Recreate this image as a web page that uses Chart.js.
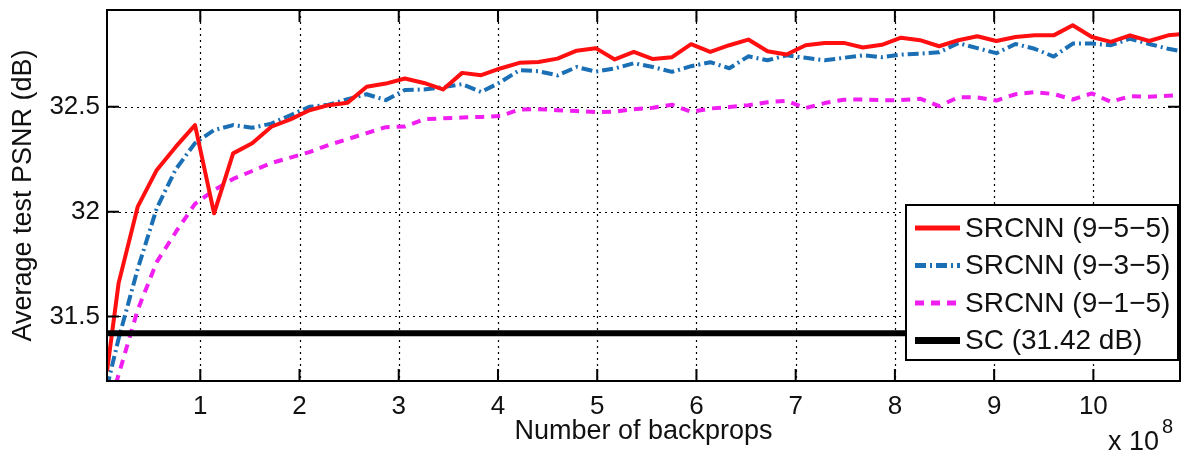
<!DOCTYPE html>
<html>
<head>
<meta charset="utf-8">
<script src="https://cdn.jsdelivr.net/npm/chart.js@4.4.1/dist/chart.umd.min.js"></script>
<style>
  html, body { margin: 0; padding: 0; background: #fff; overflow: hidden; }
  canvas { display: block; }
</style>
</head>
<body>
<canvas id="psnr" width="1185" height="454"></canvas>
<script>
// Training progress, x in units of 10^8 backprops
const backprops = [0.06, 0.177, 0.370, 0.562, 0.754, 0.947, 1.139, 1.331, 1.523, 1.716,
  1.908, 2.100, 2.293, 2.485, 2.677, 2.870, 3.062, 3.254, 3.446, 3.639,
  3.831, 4.023, 4.216, 4.408, 4.600, 4.793, 4.985, 5.177, 5.369, 5.562,
  5.754, 5.946, 6.139, 6.331, 6.523, 6.716, 6.908, 7.100, 7.292, 7.485,
  7.677, 7.869, 8.062, 8.254, 8.446, 8.639, 8.831, 9.023, 9.215, 9.408,
  9.600, 9.792, 9.985, 10.177, 10.369, 10.562, 10.754, 10.946];

// Average test PSNR (dB) per network
const psnr955 = [31.238, 31.659, 32.024, 32.199, 32.310, 32.413, 31.992, 32.278, 32.326, 32.405,
  32.440, 32.484, 32.508, 32.520, 32.596, 32.611, 32.635, 32.614, 32.583, 32.662,
  32.651, 32.683, 32.710, 32.714, 32.730, 32.768, 32.780, 32.726, 32.762, 32.728,
  32.737, 32.799, 32.762, 32.794, 32.821, 32.765, 32.750, 32.794, 32.805, 32.805,
  32.783, 32.796, 32.830, 32.818, 32.789, 32.818, 32.837, 32.814, 32.833, 32.841,
  32.841, 32.889, 32.833, 32.810, 32.841, 32.814, 32.841, 32.850];

const psnr935 = [31.163, 31.394, 31.727, 32.017, 32.203, 32.327, 32.389, 32.413, 32.400, 32.420,
  32.460, 32.500, 32.510, 32.537, 32.560, 32.532, 32.580, 32.583, 32.594, 32.608,
  32.571, 32.617, 32.675, 32.670, 32.650, 32.690, 32.668, 32.683, 32.708, 32.690,
  32.667, 32.694, 32.713, 32.684, 32.741, 32.722, 32.746, 32.734, 32.722, 32.734,
  32.746, 32.737, 32.749, 32.754, 32.760, 32.804, 32.780, 32.756, 32.800, 32.777,
  32.740, 32.802, 32.802, 32.794, 32.825, 32.800, 32.777, 32.760];

const psnr915 = [31.032, 31.222, 31.532, 31.760, 31.903, 32.037, 32.103, 32.156, 32.194, 32.232,
  32.258, 32.284, 32.318, 32.346, 32.375, 32.403, 32.406, 32.441, 32.445, 32.449,
  32.452, 32.456, 32.487, 32.489, 32.484, 32.480, 32.475, 32.477, 32.489, 32.496,
  32.510, 32.476, 32.492, 32.499, 32.508, 32.522, 32.529, 32.494, 32.518, 32.534,
  32.535, 32.532, 32.532, 32.539, 32.503, 32.546, 32.545, 32.530, 32.560, 32.570,
  32.561, 32.535, 32.564, 32.524, 32.551, 32.548, 32.553, 32.555];

// Sparse-coding baseline
const scBaseline = 31.42;

const seriesLabels = ['SRCNN (9\u22125\u22125)', 'SRCNN (9\u22123\u22125)', 'SRCNN (9\u22121\u22125)', 'SC (31.42 dB)'];
const xTickValues = [1, 2, 3, 4, 5, 6, 7, 8, 9, 10];
const yTickValues = [31.5, 32, 32.5];
const xRange = [0.06, 10.873];
const yRange = [31.192, 32.962];

const FONT = "'Liberation Sans', Arial, Helvetica, sans-serif";
const INK = '#111';

const toPoints = ys => backprops.map((x, i) => ({ x, y: ys[i] }));

// Grid, boxed axes with inward ticks, legend and the exponent label
const matlabFrame = {
  id: 'matlabFrame',
  beforeDatasetsDraw(chart) {
    const { ctx, chartArea: a, scales: { x, y } } = chart;
    ctx.save();
    ctx.strokeStyle = '#000';
    ctx.lineWidth = 1.2;
    ctx.setLineDash([2, 4]);
    ctx.beginPath();
    xTickValues.forEach(v => {
      const p = Math.round(x.getPixelForValue(v)) + 0.5;
      ctx.moveTo(p, a.top); ctx.lineTo(p, a.bottom);
    });
    yTickValues.forEach(v => {
      const p = Math.round(y.getPixelForValue(v)) + 0.5;
      ctx.moveTo(a.left, p); ctx.lineTo(a.right, p);
    });
    ctx.stroke();
    ctx.restore();
  },
  afterDatasetsDraw(chart) {
    const { ctx, chartArea: a, scales: { x, y } } = chart;
    ctx.save();
    ctx.setLineDash([]);
    ctx.strokeStyle = '#000';
    ctx.lineWidth = 2;
    ctx.strokeRect(a.left, a.top, a.right - a.left, a.bottom - a.top);
    const t = 12;
    ctx.beginPath();
    xTickValues.forEach(v => {
      const p = x.getPixelForValue(v);
      ctx.moveTo(p, a.bottom); ctx.lineTo(p, a.bottom - t);
      ctx.moveTo(p, a.top); ctx.lineTo(p, a.top + t);
    });
    yTickValues.forEach(v => {
      const p = y.getPixelForValue(v);
      ctx.moveTo(a.left, p); ctx.lineTo(a.left + t, p);
      ctx.moveTo(a.right, p); ctx.lineTo(a.right - t, p);
    });
    ctx.stroke();

    // legend box in the lower right corner of the axes
    const w = 272, h = 155;
    const lx = a.right - 2 - w, ly = a.bottom - 21 - h;
    ctx.fillStyle = '#fff';
    ctx.fillRect(lx, ly, w, h);
    ctx.lineWidth = 2;
    ctx.strokeStyle = '#000';
    ctx.strokeRect(lx, ly, w, h);
    ctx.font = `28px ${FONT}`;
    ctx.textBaseline = 'middle';
    ctx.textAlign = 'left';
    chart.data.datasets.forEach((ds, i) => {
      const cy = ly + 23 + i * 37.5;
      ctx.save();
      ctx.strokeStyle = ds.borderColor;
      ctx.lineWidth = ds.borderWidth + 1;
      ctx.setLineDash(ds.borderDash || []);
      ctx.beginPath();
      ctx.moveTo(lx + 9, cy); ctx.lineTo(lx + 54, cy);
      ctx.stroke();
      ctx.restore();
      ctx.fillStyle = INK;
      ctx.fillText(ds.label, lx + 59, cy + 1);
    });

    // x 10^8 multiplier under the right end of the x axis
    ctx.fillStyle = INK;
    ctx.textBaseline = 'alphabetic';
    ctx.font = `27px ${FONT}`;
    ctx.fillText('x 10', a.right - 72, a.bottom + 69);
    ctx.font = `20px ${FONT}`;
    ctx.fillText('8', a.right - 18, a.bottom + 52);
    ctx.restore();
  }
};

new Chart(document.getElementById('psnr'), {
  type: 'line',
  data: {
    datasets: [
      { label: seriesLabels[0], data: toPoints(psnr955), borderColor: '#ff0f0f', borderWidth: 4, order: 1 },
      { label: seriesLabels[1], data: toPoints(psnr935), borderColor: '#1a6fb5', borderWidth: 4, borderDash: [11, 4, 2, 4], order: 2 },
      { label: seriesLabels[2], data: toPoints(psnr915), borderColor: '#f01ef0', borderWidth: 4, borderDash: [9, 7], order: 3 },
      { label: seriesLabels[3], data: xRange.map(x => ({ x, y: scBaseline })), borderColor: '#000', borderWidth: 6, order: 0 }
    ]
  },
  options: {
    responsive: false,
    animation: false,
    devicePixelRatio: 1,
    layout: { padding: { left: 0, top: 10, right: 5, bottom: 0 } },
    elements: {
      point: { radius: 0, hoverRadius: 0 },
      line: { tension: 0, fill: false, borderJoinStyle: 'round', borderCapStyle: 'butt' }
    },
    datasets: { line: { clip: 0 } },
    plugins: { legend: { display: false }, tooltip: { enabled: false } },
    events: [],
    scales: {
      x: {
        type: 'linear',
        min: xRange[0],
        max: xRange[1],
        afterBuildTicks: s => { s.ticks = xTickValues.map(v => ({ value: v })); },
        afterFit: s => { s.height = 73; s.paddingLeft = 0; s.paddingRight = 0; },
        grid: { display: false, drawTicks: false },
        border: { display: false },
        ticks: { autoSkip: false, maxRotation: 0, padding: 10, color: INK, font: { family: FONT, size: 26 }, callback: v => String(v) },
        title: { display: true, text: 'Number of backprops', color: INK, font: { family: FONT, size: 27 }, padding: { top: 0, bottom: 6 } }
      },
      y: {
        type: 'linear',
        min: yRange[0],
        max: yRange[1],
        afterBuildTicks: s => { s.ticks = yTickValues.map(v => ({ value: v })); },
        afterFit: s => { s.width = 107; s.paddingTop = 0; s.paddingBottom = 0; },
        grid: { display: false, drawTicks: false },
        border: { display: false },
        ticks: { padding: 7, color: INK, font: { family: FONT, size: 26 }, callback: v => String(v) },
        title: { display: true, text: 'Average test PSNR (dB)', color: INK, font: { family: FONT, size: 27 }, padding: { top: 7, bottom: 0 } }
      }
    }
  },
  plugins: [matlabFrame]
});
</script>
</body>
</html>
